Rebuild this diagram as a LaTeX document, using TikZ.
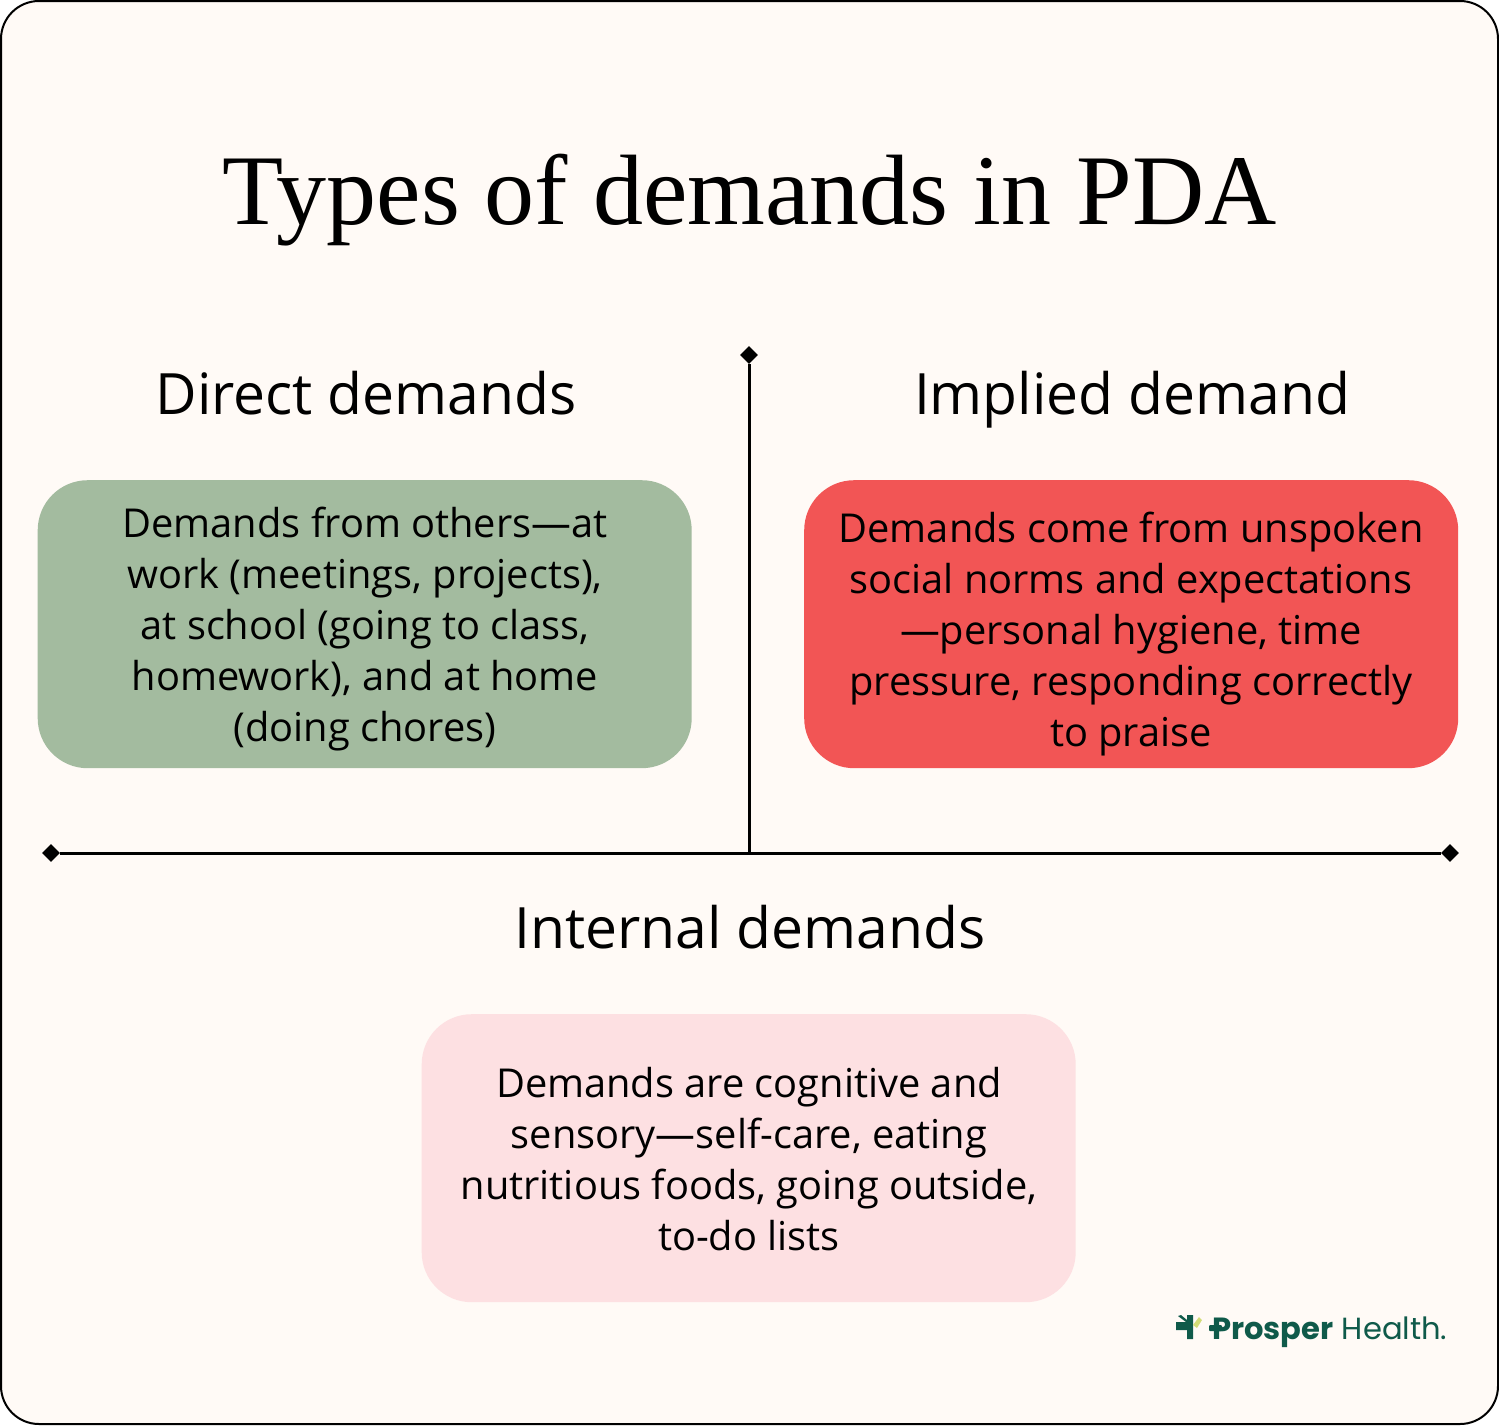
\documentclass[tikz,border=0pt]{standalone}
\usepackage{fontspec}
\setmainfont{Open Sans}
\newfontfamily\titlefont{Liberation Serif}
\newfontfamily\logofont{Poppins}
\usetikzlibrary{shapes.geometric}
\definecolor{paper}{HTML}{FFFAF6}
\definecolor{sage}{HTML}{A3BB9F}
\definecolor{coral}{HTML}{F25555}
\definecolor{blush}{HTML}{FDE0E2}
\definecolor{logogreen}{HTML}{0F5A4A}
\definecolor{logolime}{HTML}{D3DC78}
\tikzset{
 x=1pt,y=-1pt,
 card/.style={rounded corners=50pt,minimum width=654pt,minimum height=288pt,inner sep=0pt,anchor=north west},
 cardtext/.style={align=center,font=\fontsize{39.8}{51}\selectfont,text=black,inner sep=0pt},
 heading/.style={font=\fontsize{57}{60}\selectfont,text=black,inner sep=0pt,anchor=base},
 tip/.style={diamond,fill=black,minimum width=18pt,minimum height=18pt,inner sep=0pt},
 rule/.style={line width=3pt,black},
}
\begin{document}
\begin{tikzpicture}
\useasboundingbox (0,0) rectangle (1499,1425);
\fill[white] (0,0) rectangle (1499,1425);
\draw[fill=paper,line width=2pt,rounded corners=38pt] (1,1) rectangle (1498,1424);
\node[inner sep=0pt,anchor=base,font=\titlefont\fontsize{100}{110}\selectfont] (title) at (749.5,224) {Types of demands in PDA};
\node[heading] (hd) at (366,414) {Direct demands};
\node[heading] (hi) at (1132,414) {Implied demand};
\node[heading] (hn) at (750,948) {Internal demands};
\node[card,fill=sage] (cd) at (37.5,480) {};
\node[card,fill=coral] (ci) at (804,480) {};
\node[card,fill=blush] (cn) at (421.5,1014) {};
\node[cardtext] (td) at (365,629.5) {Demands from others—at\\work (meetings, projects),\\at school (going to class,\\homework), and at home\\(doing chores)};
\node[cardtext] (ti) at (1131,634.5) {Demands come from unspoken\\social norms and expectations\\—personal hygiene, time\\pressure, responding correctly\\to praise};
\node[cardtext] (tn) at (749,1159) {Demands are cognitive and\\sensory—self-care, eating\\nutritious foods, going outside,\\to-do lists};
\node[tip] (l) at (51,853) {};
\node[tip] (r) at (1450,853) {};
\node[tip] (t) at (749,355) {};
\coordinate (j) at (749,853);
\draw[rule] (l) -- (r);
\draw[rule] (t) -- (j);
% logo
\fill[logogreen] (1176,1322) -- (1186,1322) -- (1178,1316) -- (1181,1315) -- (1187,1320) -- (1187,1315) -- (1193,1315) -- (1193,1339) -- (1187,1339) -- (1187,1330) -- (1176,1330) -- cycle;
\fill[logolime] (1193,1325) -- (1199,1317) -- (1202,1320) -- (1197,1328) -- cycle;
\fill[logogreen,rounded corners=1pt] (1209,1325) rectangle (1222,1331);
\node[inner sep=0pt,anchor=base west,text=logogreen,font=\logofont\fontsize{30.6}{30}\selectfont] (logo) at (1212,1339) {\textbf{Prosper} Health.};
\end{tikzpicture}
\end{document}
